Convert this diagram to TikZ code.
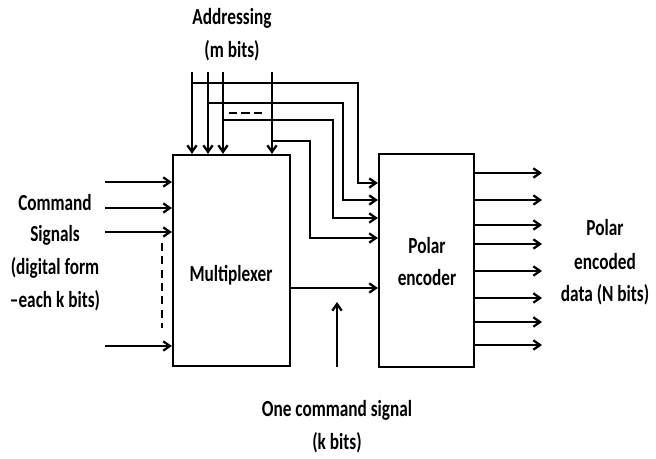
\documentclass[tikz,border=0pt]{standalone}
\usepackage{fontspec}
\setmainfont{Carlito}
\newfontfamily\cfont[FakeStretch=0.75]{Carlito}
\usetikzlibrary{arrows.meta}
\begin{document}
\begin{tikzpicture}[x=0.75pt,y=-0.75pt, line width=1.7pt,
  arr/.style={-{Straight Barb[length=5pt,width=7pt,line width=1.7pt]}},
  box/.style={draw, line width=1.7pt, inner sep=0pt},
  lbl/.style={font=\cfont\bfseries\fontsize{17.25}{20}\selectfont, align=center, inner sep=0pt}]
\useasboundingbox (0,0) rectangle (656,459);
% boxes
\node[box, minimum width=87.75pt, minimum height=158.25pt] (mux) at (231.5,260.5) {};
\node[box, minimum width=71.25pt, minimum height=159.75pt] (enc) at (426.5,260.5) {};
\node[lbl] (muxt) at (231,275) {Multiplexer};
\node[lbl] (enct1) at (427,246) {Polar};
\node[lbl] (enct2) at (427,278) {encoder};
% labels
\node[lbl] (addr1) at (232,18) {Addressing};
\node[lbl] (addr2) at (232,51) {(m bits)};
\node[lbl] (cmd1) at (55,203) {Command};
\node[lbl] (cmd2) at (55,235) {Signals};
\node[lbl] (cmd3) at (55,268) {(digital form};
\node[lbl] (cmd4) at (55,301) {–each k bits)};
\node[lbl] (out1) at (605,228) {Polar};
\node[lbl] (out2) at (605,262) {encoded};
\node[lbl] (out3) at (605,295) {data (N bits)};
\node[lbl] (one1) at (337,410) {One command signal};
\node[lbl] (one2) at (337,443) {(k bits)};
% left inputs
\foreach \i/\y in {1/182,2/208,3/232,4/346}{
  \coordinate (in\i) at (105,\y);
  \draw[arr] (in\i) -- (in\i -| mux.west);
}
\coordinate (dsA) at (162,243);
\coordinate (dsB) at (162,328);
\draw[line width=1pt, dash pattern=on 6pt off 4pt] (dsA) -- (dsB);
% addressing lines
\foreach \i/\x/\h/\v/\e in {1/192/83/358/183, 2/208/103/343/200, 3/223/120/333/218, 4/272/141/310/238}{
  \coordinate (a\i) at (\x,72);
  \coordinate (h\i) at (\x,\h);
  \coordinate (c\i) at (\v,\h);
  \coordinate (d\i) at (\v,\e);
  \draw[arr] (a\i) -- (a\i |- mux.north);
  \draw[arr] (h\i) -- (c\i) -- (d\i) -- (d\i -| enc.west);
}
\coordinate (dd1) at (229,113);
\coordinate (dd2) at (262,113);
\draw[dash pattern=on 6.25pt off 3pt] (dd1) -- (dd2);
% mux output
\coordinate (mo) at (290,288);
\draw[arr] (mo) -- (mo -| enc.west);
\coordinate (up1) at (337,367);
\coordinate (up2) at (337,302);
\draw[arr] (up1) -- (up2);
% encoder outputs
\foreach \i/\y in {1/173,2/200,3/225,4/244,5/271,6/298,7/322,8/345}{
  \coordinate (o\i) at (542,\y);
  \draw[arr] (o\i -| enc.east) -- (o\i);
}
\end{tikzpicture}
\end{document}
